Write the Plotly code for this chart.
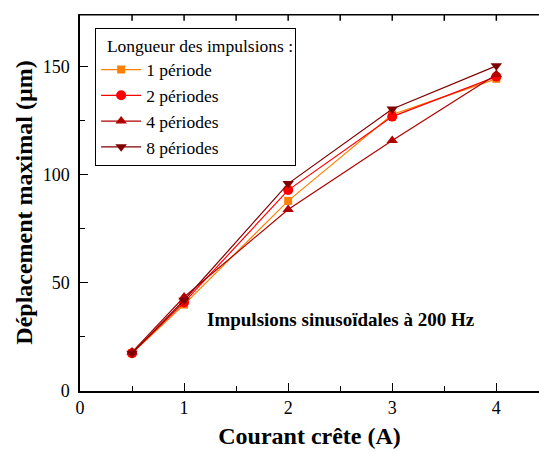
import plotly.graph_objects as go

courant = [0.5, 1, 2, 3, 4]
p1 = [17.5, 40, 88, 128, 144.5]
p2 = [17.5, 41, 93, 127, 145.5]
p4 = [18, 43.5, 84, 116, 146.5]
p8 = [17.5, 42, 96, 130.5, 150.5]
names = ["1 période", "2 périodes", "4 périodes", "8 périodes"]
colors = ["#FF8000", "#FF0000", "#B00000", "#800000"]
symbols = ["square", "circle", "triangle-up", "triangle-down"]
series = [p1, p2, p4, p8]
xticks = [0, 1, 2, 3, 4]
xminor = [0.5, 1.5, 2.5, 3.5]
yticks = [0, 50, 100, 150]
yminor = [25, 75, 125]
xrange_ = [0, 4.41]
yrange_ = [0, 174.5]

fig = go.Figure()
for n, c, s, y in zip(names, colors, symbols, series):
    fig.add_trace(go.Scatter(
        x=courant, y=y, name=n, mode="lines+markers",
        line=dict(color=c, width=1.2),
        marker=dict(symbol=s, size=10 if s != "square" else 8, color=c),
        cliponaxis=False,
    ))

# top frame line with inward ticks, built from the axis range and tick lists
ytop = yrange_[1] - 0.35
fx, fy = [xrange_[0], xrange_[1], None], [ytop, ytop, None]
for v in xticks[1:] + xminor:
    fx += [v, v, None]
    fy += [ytop, ytop - 2.8, None]
fig.add_trace(go.Scatter(x=fx, y=fy, mode="lines", line=dict(color="black", width=1.5),
                         showlegend=False, hoverinfo="skip", cliponaxis=False))

font = "'Liberation Serif', 'Times New Roman', 'DejaVu Serif', serif"
fig.update_layout(
    width=539, height=452,
    margin=dict(l=80, r=0, t=14, b=61, autoexpand=False),
    paper_bgcolor="white", plot_bgcolor="white",
    font=dict(family=font, size=18, color="black"),
    showlegend=True,
    legend=dict(
        x=0.033, y=0.963, xanchor="left", yanchor="top",
        bordercolor="black", borderwidth=1, bgcolor="white",
        font=dict(family=font, size=17.5),
        title=dict(text="\u00a0\u00a0Longueur des impulsions :", font=dict(family=font, size=17.5)),
        itemwidth=40, tracegroupgap=0,
    ),
    annotations=[dict(
        x=2.51, y=33, xref="x", yref="y", showarrow=False,
        text="<b>Impulsions sinusoïdales à 200 Hz</b>",
        font=dict(family=font, size=19, color="black"),
    )],
)

fig.update_xaxes(
    range=xrange_, tickvals=xticks, ticks="inside", ticklen=8,
    tickwidth=1.3, tickcolor="black",
    minor=dict(tickvals=xminor, ticks="inside", ticklen=5, tickcolor="black", tickwidth=1.3),
    showline=True, linecolor="black", linewidth=1.5, mirror=False,
    showgrid=False, zeroline=False, automargin=False,
    title=dict(text="<b>Courant crête (A)</b>", font=dict(family=font, size=24), standoff=10),
    tickfont=dict(family=font, size=18),
)
fig.update_yaxes(
    range=yrange_, tickvals=yticks, ticks="inside", ticklen=8,
    tickwidth=1.3, tickcolor="black",
    minor=dict(tickvals=yminor, ticks="inside", ticklen=5, tickcolor="black", tickwidth=1.3),
    showline=True, linecolor="black", linewidth=1.5, mirror=False,
    showgrid=False, zeroline=False, automargin=False, ticklabelstandoff=5,
    title=dict(text="<b>Déplacement maximal (µm)</b>", font=dict(family=font, size=24), standoff=3),
    tickfont=dict(family=font, size=18),
)
fig.write_html("out.html", config={"displayModeBar": False},
               post_script="document.body.style.margin='0';document.body.style.padding='0';")
